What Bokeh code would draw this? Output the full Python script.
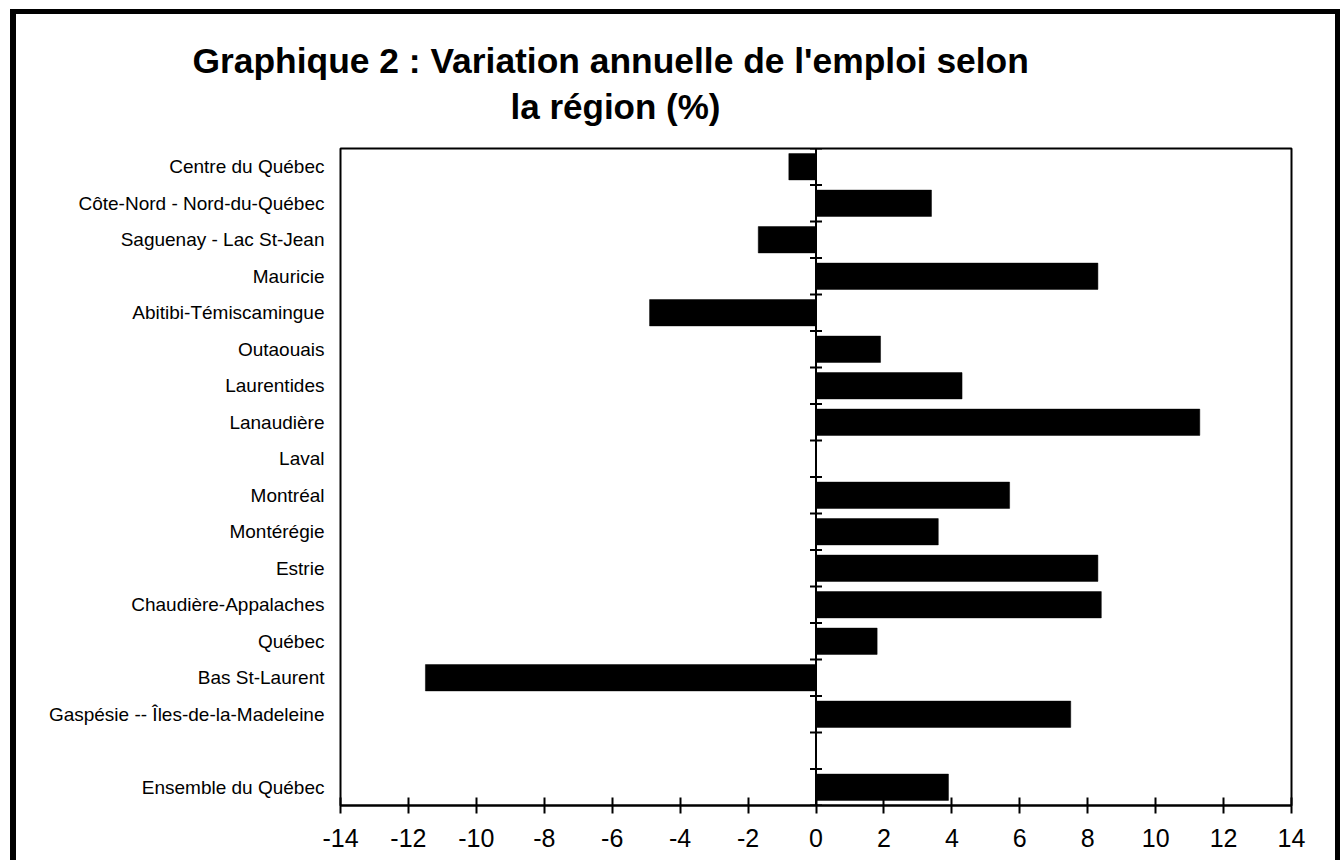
from bokeh.plotting import figure
from bokeh.models import FactorRange, Range1d, Span, Title, FixedTicker
from bokeh.layouts import column
from bokeh.embed import file_html
from bokeh.resources import INLINE

regions = [
    "Centre du Québec",
    "Côte-Nord - Nord-du-Québec",
    "Saguenay - Lac St-Jean",
    "Mauricie",
    "Abitibi-Témiscamingue",
    "Outaouais",
    "Laurentides",
    "Lanaudière",
    "Laval",
    "Montréal",
    "Montérégie",
    "Estrie",
    "Chaudière-Appalaches",
    "Québec",
    "Bas St-Laurent",
    "Gaspésie -- Îles-de-la-Madeleine",
    " ",
    "Ensemble du Québec",
]
bar_regions = [r for r in regions if r.strip()]
variation = [-0.8, 3.4, -1.7, 8.3, -4.9, 1.9, 4.3, 11.3, 0.0, 5.7, 3.6, 8.3, 8.4, 1.8, -11.5, 7.5, 3.9]
x_ticks = [-14, -12, -10, -8, -6, -4, -2, 0, 2, 4, 6, 8, 10, 12, 14]
title_line1 = "Graphique 2 : Variation annuelle de l'emploi selon"
title_line2 = "la région (%)"

FONT = "Liberation Sans"

p = figure(width=1319, height=846,
           y_range=FactorRange(factors=list(reversed(regions)), range_padding=0),
           x_range=Range1d(x_ticks[0], x_ticks[-1]),
           output_backend="svg", toolbar_location=None, title=None,
           min_border_left=324, min_border_right=44, min_border_top=134, min_border_bottom=55)

p.background_fill_color = "white"
p.border_fill_color = "white"
p.outline_line_color = "black"
p.outline_line_width = 2
p.xgrid.visible = False
p.ygrid.visible = False

# category axis
p.yaxis.axis_line_color = None
p.yaxis.major_tick_line_color = None
p.yaxis.minor_tick_line_color = None
p.yaxis.major_label_standoff = 10
p.yaxis.major_label_text_font = FONT
p.yaxis.major_label_text_font_size = "19px"
p.yaxis.major_label_text_color = "black"

# value axis
p.xaxis.ticker = FixedTicker(ticks=x_ticks)
p.xaxis.major_label_overrides = {t: str(t) for t in x_ticks}
p.xaxis.axis_line_width = 2
p.xaxis.axis_line_color = "black"
p.xaxis.major_tick_in = 8
p.xaxis.major_tick_out = 8
p.xaxis.major_tick_line_width = 2
p.xaxis.major_tick_line_color = "black"
p.xaxis.minor_tick_line_color = None
p.xaxis.major_label_standoff = 15
p.xaxis.major_label_text_font = FONT
p.xaxis.major_label_text_font_size = "25px"
p.xaxis.major_label_text_color = "black"

p.hbar(y=bar_regions, left=0, right=variation, height=0.72,
       fill_color="black", line_color="black", line_width=0.5)

p.add_layout(Span(location=0, dimension="height", line_color="black", line_width=2))

boundaries = list(range(len(regions) + 1))
p.scatter(x=[0] * len(boundaries), y=boundaries, marker="dash", size=12,
          line_color="black", line_width=2)

t2 = Title(text=title_line2, align="left", offset=170, text_font=FONT,
           text_font_size="35px", text_font_style="bold", text_color="black", standoff=46)
t1 = Title(text=title_line1, align="left", offset=-148, text_font=FONT,
           text_font_size="35.4px", text_font_style="bold", text_color="black", standoff=-38)
p.add_layout(t2, "above")
p.add_layout(t1, "above")

layout = column(p, styles={"border-top": "5px solid black",
                           "border-left": "6px solid black",
                           "border-right": "5px solid black",
                           "margin-left": "10px", "margin-top": "9px"})

open("out.html", "w").write(file_html(layout, INLINE))
